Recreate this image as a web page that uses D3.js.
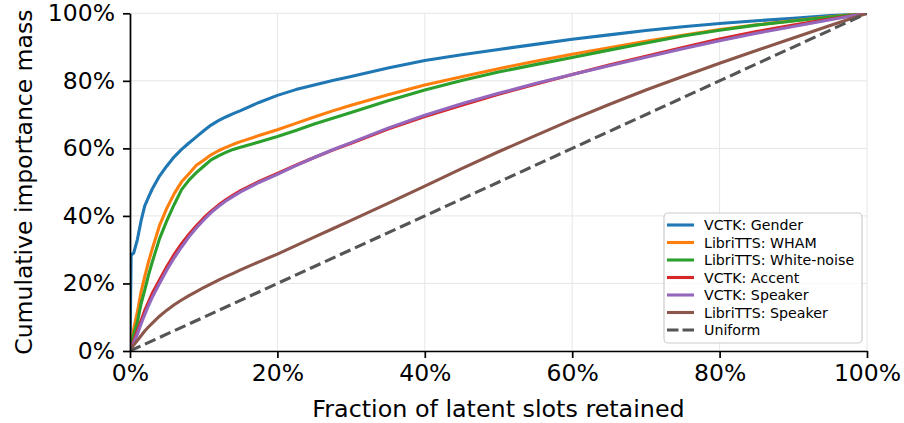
<!DOCTYPE html>
<html>
<head>
<meta charset="utf-8">
<script src="https://cdn.jsdelivr.net/npm/d3@7/dist/d3.min.js"></script>
<style>
  html, body { margin: 0; padding: 0; background: #fff; }
  svg { display: block; font-family: "DejaVu Sans", sans-serif; }
</style>
</head>
<body>
<svg id="chart" width="904" height="423"></svg>
<script>
// ---- Data (percent values) ----
const xPct = [0, 0.15, 0.5, 1, 1.5, 2, 2.5, 3, 4, 5, 6, 7, 8, 9, 10, 11, 12, 13, 14, 15,
  17.5, 20, 22.5, 25, 27.5, 30, 35, 40, 45, 50, 55, 60, 65, 70, 75, 80, 85, 90, 95, 100];

const vctkGender = [0, 28.4, 29, 33, 38.5, 43, 45.5, 47.9, 51.8, 54.8, 57.5, 59.7, 61.6, 63.4, 65.2, 66.9, 68.2, 69.3, 70.3, 71.2,
  73.6, 75.7, 77.4, 78.8, 80.1, 81.3, 83.8, 86.0, 87.7, 89.3, 90.8, 92.3, 93.6, 94.9, 96.0, 97.0, 97.8, 98.5, 99.3, 100];
const libriWham = [0, 2.5, 6.5, 11.5, 17.5, 22, 26.3, 30.1, 37.1, 42.3, 46.6, 50.1, 52.5, 55.0, 56.5, 58.1, 59.3, 60.3, 61.2, 62.0,
  63.8, 65.5, 67.4, 69.3, 71.1, 72.8, 75.9, 78.8, 81.2, 83.6, 85.8, 87.9, 89.8, 91.7, 93.5, 95.2, 96.6, 97.8, 99.0, 100];
const libriWhite = [0, 1.5, 5, 8.5, 14, 18, 22.4, 26.2, 33.2, 38.6, 43.4, 47.8, 50.6, 52.8, 54.7, 56.6, 57.8, 58.8, 59.7, 60.3,
  61.9, 63.5, 65.3, 67.2, 68.9, 70.6, 74.1, 77.3, 80.1, 82.6, 84.8, 86.9, 89.1, 91.2, 93.3, 95.0, 96.5, 97.7, 98.9, 100];
const vctkAccent = [0, 1, 3, 6, 9, 12, 14.5, 17, 21, 25, 28.6, 31.8, 34.6, 37.1, 39.4, 41.4, 43.2, 44.8, 46.2, 47.5,
  50.2, 52.6, 55, 57.3, 59.5, 61.5, 65.7, 69.4, 72.8, 76.0, 79.0, 81.9, 84.7, 87.3, 89.9, 92.4, 94.6, 96.5, 98.3, 100];
const vctkSpeaker = [0, 0.7, 2.4, 5, 8, 10.8, 13.4, 15.8, 20, 24, 27.6, 30.8, 33.8, 36.4, 38.8, 41, 42.8, 44.4, 45.8, 47.1,
  49.9, 52.3, 54.9, 57.3, 59.6, 61.7, 66, 69.8, 73.2, 76.3, 79.2, 81.9, 84.5, 87, 89.5, 91.9, 94.1, 96.1, 98.1, 100];
const libriSpeaker = [0, 0.6, 1.8, 3.1, 4.5, 5.9, 7.1, 8.2, 10.3, 12.1, 13.7, 15.1, 16.4, 17.6, 18.8, 19.9, 21, 22, 23, 24,
  26.4, 28.7, 31.2, 33.7, 36.2, 38.7, 43.7, 48.8, 54, 59, 63.8, 68.5, 73, 77.3, 81.3, 85.2, 89, 92.7, 96.4, 100];
const uniformX = [0, 100];
const uniformY = [0, 100];

const seriesNames = ["VCTK: Gender", "LibriTTS: WHAM", "LibriTTS: White-noise", "VCTK: Accent", "VCTK: Speaker", "LibriTTS: Speaker"];
const seriesValues = [vctkGender, libriWham, libriWhite, vctkAccent, vctkSpeaker, libriSpeaker];
const seriesColors = ["#1f77b4", "#ff7f0e", "#2ca02c", "#d62728", "#9467bd", "#8c564b"];
const uniformName = "Uniform";
const uniformColor = "#555555";
const tickValues = [0, 0.2, 0.4, 0.6, 0.8, 1.0];
const xLabel = "Fraction of latent slots retained";
const yLabel = "Cumulative importance mass";

// ---- Layout ----
const W = 904, H = 423;
const m = { left: 130, right: 37, top: 13.3, bottom: 72 };
const svg = d3.select("#chart");
const x = d3.scaleLinear().domain([0, 1]).range([m.left, W - m.right]);
const y = d3.scaleLinear().domain([0, 1]).range([H - m.bottom, m.top]);

svg.append("defs").append("clipPath").attr("id", "plotclip")
  .append("rect").attr("x", x(0)).attr("y", y(1)).attr("width", x(1) - x(0)).attr("height", y(0) - y(1));

// grid
const grid = svg.append("g");
grid.selectAll(".gx").data(tickValues).join("line")
  .attr("x1", d => x(d)).attr("x2", d => x(d)).attr("y1", y(0)).attr("y2", y(1))
  .attr("stroke", "#e6e6e6").attr("stroke-width", 1);
grid.selectAll(".gy").data(tickValues).join("line")
  .attr("y1", d => y(d)).attr("y2", d => y(d)).attr("x1", x(0)).attr("x2", x(1))
  .attr("stroke", "#e6e6e6").attr("stroke-width", 1);

// lines
const line = d3.line().x(d => x(d[0] / 100)).y(d => y(d[1] / 100)).curve(d3.curveLinear);
const plot = svg.append("g").attr("clip-path", "url(#plotclip)");
seriesValues.forEach((vals, i) => {
  plot.append("path")
    .datum(xPct.map((xv, j) => [xv, vals[j]]))
    .attr("d", line)
    .attr("fill", "none")
    .attr("stroke", seriesColors[i])
    .attr("stroke-width", 3.1)
    .attr("stroke-linejoin", "round");
});
plot.append("path")
  .datum(uniformX.map((xv, j) => [xv, uniformY[j]]))
  .attr("d", line)
  .attr("fill", "none")
  .attr("stroke", uniformColor)
  .attr("stroke-width", 3.1)
  .attr("stroke-dasharray", "11.5,5");

// axes
const fmt = d3.format(".0%");
const xAxis = svg.append("g").attr("transform", `translate(0,${y(0)})`)
  .call(d3.axisBottom(x).tickValues(tickValues).tickFormat(fmt).tickSize(7).tickSizeOuter(0).tickPadding(6));
const yAxis = svg.append("g").attr("transform", `translate(${x(0)},0)`)
  .call(d3.axisLeft(y).tickValues(tickValues).tickFormat(fmt).tickSize(7).tickSizeOuter(0).tickPadding(8));
[xAxis, yAxis].forEach(g => {
  g.selectAll("path.domain").attr("stroke", "#000").attr("stroke-width", 1.7);
  g.selectAll(".tick line").attr("stroke", "#000").attr("stroke-width", 1.7);
  g.selectAll(".tick text").attr("fill", "#000").style("font-size", "23.5px").style("font-family", "DejaVu Sans");
});

// axis labels
svg.append("text").attr("x", (x(0) + x(1)) / 2).attr("y", 417)
  .attr("text-anchor", "middle").style("font-size", "23.8px").attr("fill", "#000").text(xLabel);
svg.append("text").attr("transform", `translate(31.5,${(y(0) + y(1)) / 2}) rotate(-90)`)
  .attr("text-anchor", "middle").style("font-size", "23.5px").attr("fill", "#000").text(yLabel);

// legend
const lg = svg.append("g");
lg.append("rect").attr("x", 664).attr("y", 213).attr("width", 198).attr("height", 130)
  .attr("rx", 4).attr("fill", "#fff").attr("fill-opacity", 0.8).attr("stroke", "#cccccc").attr("stroke-width", 1.2);
const legItems = seriesNames.map((n, i) => ({ name: n, color: seriesColors[i], dash: null }))
  .concat([{ name: uniformName, color: uniformColor, dash: "11.5,4" }]);
legItems.forEach((it, i) => {
  const cy = 225 + i * 17.5;
  lg.append("line").attr("x1", 667).attr("x2", 694).attr("y1", cy).attr("y2", cy)
    .attr("stroke", it.color).attr("stroke-width", 3.1)
    .attr("stroke-dasharray", it.dash);
  lg.append("text").attr("x", 704).attr("y", cy + 5).style("font-size", "14.2px")
    .attr("fill", "#000").text(it.name);
});
</script>
</body>
</html>
